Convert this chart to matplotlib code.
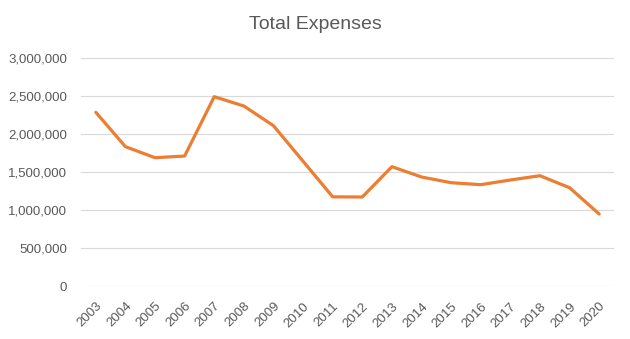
import matplotlib
matplotlib.use("Agg")
import matplotlib.pyplot as plt
import matplotlib.transforms as mtransforms
from matplotlib.ticker import FuncFormatter

years = [str(y) for y in range(2003, 2021)]
expenses = [2290000, 1837000, 1692000, 1714000, 2495000, 2372000, 2113000,
            1645000, 1177000, 1175000, 1574000, 1438000, 1363000, 1337000,
            1399000, 1455000, 1297000, 951000]
yticks = [0, 500000, 1000000, 1500000, 2000000, 2500000, 3000000]

plt.rcParams['font.family'] = ['Liberation Sans', 'DejaVu Sans']
fig = plt.figure(figsize=(6.3, 3.39), dpi=100)
ax = fig.add_axes([81/630, 1 - 286.3/339, (614-81)/630, (286.3-58.3)/339])

x = list(range(len(years)))
ax.plot(x, expenses, color='#ED7D31', lw=2.3, solid_joinstyle='round', solid_capstyle='round', zorder=3)
ax.set_xlim(-0.5, len(years) - 0.5)
ax.set_ylim(0, 3000000)
ax.set_yticks(yticks)
ax.yaxis.set_major_formatter(FuncFormatter(lambda v, p: f"{int(v):,}"))
ax.set_xticks(x)
ax.set_xticklabels(years, rotation=45, ha='right', va='top', rotation_mode='anchor')
offset = mtransforms.ScaledTranslation(-3/100, -1/100, fig.dpi_scale_trans)
for lbl in ax.get_xticklabels():
    lbl.set_transform(lbl.get_transform() + offset)
ax.grid(axis='y', color='#d9d9d9', lw=0.8)
ax.set_axisbelow(True)
for s in ax.spines.values():
    s.set_visible(False)
ax.tick_params(axis='both', length=0, colors='#595959', labelsize=9.5)
ax.tick_params(axis='y', pad=10)
ax.tick_params(axis='x', pad=10)
fig.text(0.5, 1 - 24.5/339, 'Total Expenses', ha='center', va='center', fontsize=14, color='#595959')
fig.savefig('out.png', dpi=100)
